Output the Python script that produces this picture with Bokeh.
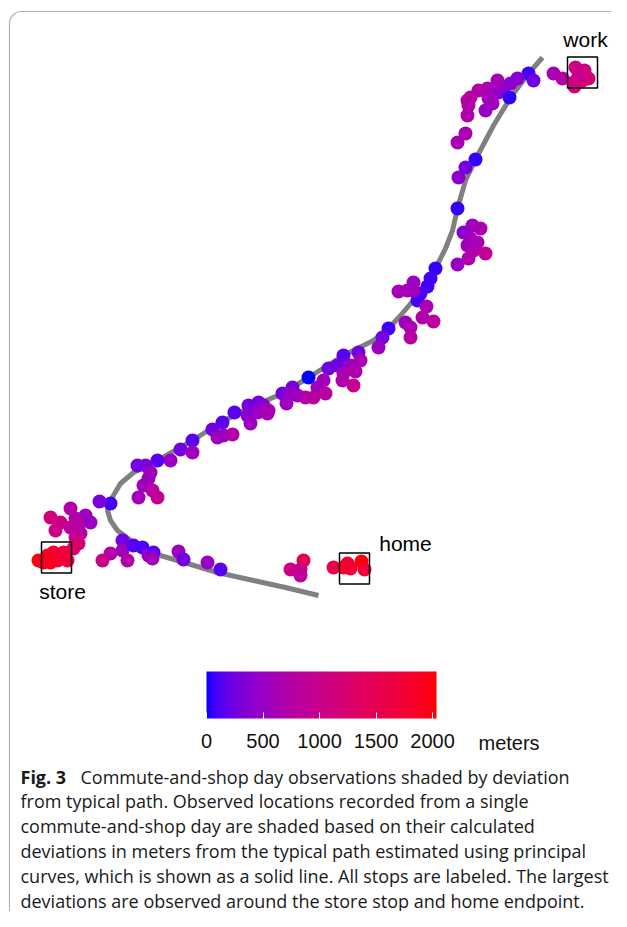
import numpy as np
from bokeh.plotting import figure
from bokeh.models import (Range1d, ColumnDataSource, LinearColorMapper, ColorBar,
                          FixedTicker, BoxAnnotation)
from bokeh.transform import transform
from bokeh.core.properties import value
from bokeh.embed import file_html
from bokeh.resources import INLINE

# ---------------- data (map positions, page-like units; deviation in meters) ----------------
obs_x = [575, 584, 588, 582, 573, 574, 578, 553, 562,
         528, 533, 517, 510, 503, 498, 497, 509,
         487, 478, 470, 467, 488, 492, 485, 468, 467, 465, 457,
         475, 465, 458, 457,
         472, 463, 480, 470, 477, 467, 473, 485, 468, 457,
         435, 430, 427, 420, 417, 413, 407, 398, 413, 426, 422, 433, 405, 410, 410, 388, 382, 378,
         358, 343, 360, 350, 337, 328, 343, 355, 342, 353, 308, 323, 317, 325, 313, 305, 297, 292, 282, 286, 290,
         258, 248, 263, 268, 257, 247, 250, 267, 234, 222, 212, 217, 223, 232, 192, 180, 192,
         170, 157, 137, 145, 150, 148, 143, 152, 157, 138,
         110, 99,
         70, 50, 60, 85, 90, 75, 78, 70, 55, 80, 75, 78, 73,
         38, 47, 53, 57, 63, 67, 50, 43,
         122, 122, 110, 102, 127, 133, 142, 148, 153, 152, 178, 183, 207, 220,
         303, 290, 300, 300, 333, 347, 350, 361, 364, 343]
obs_y = [67, 70, 78, 80, 82, 86, 75, 73, 78,
         73, 80, 78, 83, 88, 92, 80, 97,
         88, 90, 97, 100, 98, 103, 110, 105, 115, 133, 142,
         159, 167, 177, 208,
         225, 232, 228, 238, 242, 245, 250, 253, 258, 264,
         268, 278, 286, 293, 300, 282, 290, 291, 290, 306, 317, 321, 322, 327, 337, 328, 337, 347,
         352, 355, 360, 365, 365, 368, 373, 371, 380, 385, 377, 380, 387, 393, 397, 397, 395, 387, 393, 403, 393,
         402, 405, 405, 410, 412, 415, 423, 413, 412, 422, 429, 437, 435, 434, 440, 449, 452,
         460, 460, 465, 465, 472, 478, 485, 490, 497, 497,
         503, 501,
         508, 517, 522, 515, 522, 518, 525, 527, 530, 533, 537, 543, 548,
         560, 555, 552, 560, 552, 560, 562, 562,
         540, 550, 553, 560, 560, 545, 547, 555, 552, 558, 551, 559, 562, 569,
         560, 569, 569, 575, 567, 563, 568, 561, 569, 567]
obs_dev = [1050, 1100, 1200, 1200, 1100, 1150, 1000, 650, 750,
           80, 250, 350, 400, 400, 450, 600, 50,
           650, 750, 800, 800, 650, 550, 500, 750, 700, 650, 650,
           50, 250, 400, 50,
           550, 400, 650, 550, 650, 550, 700, 900, 700, 500,
           50, 80, 80, 120, 80, 550, 650, 600, 550, 650, 700, 800, 550, 650, 800, 80, 250, 500,
           250, 150, 650, 550, 250, 250, 650, 700, 700, 950, 0, 550, 550, 800, 800, 800, 650, 250, 250, 550, 500,
           250, 250, 400, 650, 500, 400, 550, 650, 150, 150, 250, 550, 550, 700, 150, 250, 550,
           500, 150, 250, 300, 550, 550, 550, 800, 900, 600,
           80, 300,
           750, 1150, 1050, 550, 500, 750, 750, 850, 1050, 750, 950, 1200, 1300,
           2000, 1900, 1800, 1800, 1700, 1700, 1900, 1900,
           250, 550, 750, 1000, 750, 150, 120, 500, 150, 550, 550, 250, 500, 150,
           1500, 1050, 1050, 850, 1550, 1800, 1700, 2030, 1700, 1800]

# typical path (principal curve)
path_x = [542, 528, 510, 493, 475, 465, 457, 452, 445, 435, 427, 417, 400, 388, 373, 343,
          308, 282, 247, 220, 192, 157, 133, 120, 110, 107, 110, 117, 133, 160, 187, 217,
          253, 285, 318]
path_y = [57, 73, 97, 125, 159, 180, 208, 230, 248, 268, 280, 295, 315, 328, 340, 355,
          377, 393, 408, 422, 440, 460, 472, 483, 500, 510, 520, 530, 542, 555, 563, 572,
          580, 587, 595]

# stops
stop_names = ["work", "home", "store"]
stop_x = [582, 354, 56]
stop_y = [72, 568, 557]
stop_half = 15

cb_ticks = [0, 500, 1000, 1500, 2000]
cb_low, cb_high = 0, 2035

caption_bold = "Fig. 3"
caption_lines = [
    "Commute-and-shop day observations shaded by deviation",
    "from typical path. Observed locations recorded from a single",
    "commute-and-shop day are shaded based on their calculated",
    "deviations in meters from the typical path estimated using principal",
    "curves, which is shown as a solid line. All stops are labeled. The largest",
    "deviations are observed around the store stop and home endpoint.",
]


# ---------------- blue -> red palette interpolated in CIE Lab ----------------
def srgb_to_lab(rgb):
    c = np.array(rgb, float) / 255.0
    c = np.where(c > 0.04045, ((c + 0.055) / 1.055) ** 2.4, c / 12.92)
    M = np.array([[0.4124, 0.3576, 0.1805], [0.2126, 0.7152, 0.0722], [0.0193, 0.1192, 0.9505]])
    xyz = M @ c / np.array([0.95047, 1.0, 1.08883])
    f = np.where(xyz > 0.008856, np.cbrt(xyz), 7.787 * xyz + 16 / 116)
    return np.array([116 * f[1] - 16, 500 * (f[0] - f[1]), 200 * (f[1] - f[2])])


def lab_to_hex(lab):
    L, a, b = lab
    fy = (L + 16) / 116
    fx = fy + a / 500
    fz = fy - b / 200
    f = np.array([fx, fy, fz])
    xyz = np.where(f ** 3 > 0.008856, f ** 3, (f - 16 / 116) / 7.787) * np.array([0.95047, 1.0, 1.08883])
    Mi = np.array([[3.2406, -1.5372, -0.4986], [-0.9689, 1.8758, 0.0415], [0.0557, -0.2040, 1.0570]])
    c = Mi @ xyz
    c = np.where(c > 0.0031308, 1.055 * np.clip(c, 0, None) ** (1 / 2.4) - 0.055, 12.92 * c)
    c = np.clip(np.round(c * 255), 0, 255).astype(int)
    return "#%02x%02x%02x" % tuple(c)


lab_lo, lab_hi = srgb_to_lab([0, 0, 255]), srgb_to_lab([255, 0, 0])
palette = [lab_to_hex(lab_lo + (lab_hi - lab_lo) * t) for t in np.linspace(0, 1, 256)]

# ---------------- figure ----------------
W, H = 611, 911
p = figure(width=W, height=H, x_range=Range1d(0, W), y_range=Range1d(H, 0),
           output_backend="svg", toolbar_location=None, min_border=0)
p.axis.visible = False
p.grid.visible = False
p.outline_line_color = None
p.background_fill_color = "white"
p.border_fill_color = "white"

# rounded frame
p.add_layout(BoxAnnotation(left=9, right=700, top=11, bottom=935, fill_alpha=0,
                           line_color="black", line_width=1.2, border_radius=12))

p.line(path_x, path_y, line_color="#808080", line_width=5)

mapper = LinearColorMapper(palette=palette, low=cb_low, high=cb_high)
src = ColumnDataSource(dict(x=obs_x, y=obs_y, dev=obs_dev))
p.scatter("x", "y", source=src, size=14, fill_color=transform("dev", mapper), line_color=None)

p.rect(stop_x, stop_y, width=2 * stop_half, height=2 * stop_half + 1, fill_alpha=0,
       line_color="black", line_width=1.5)

lab_dx = [3, 51, 6]
lab_dy = [-33, -25, 34]
p.text([x + dx for x, dx in zip(stop_x, lab_dx)], [y + dy for y, dy in zip(stop_y, lab_dy)],
       text=stop_names, text_font=value("Liberation Sans"), text_font_size="21px",
       text_align="center", text_baseline="middle", text_color="black")

cb = ColorBar(color_mapper=mapper, orientation="horizontal", width=230, height=47,
              ticker=FixedTicker(ticks=cb_ticks), major_label_text_font_size="20px",
              major_label_text_font="Liberation Sans", major_label_text_color="#111111",
              major_tick_line_color="white", major_tick_in=6, major_tick_out=0,
              minor_tick_line_color=None, bar_line_color=None, border_line_color=None,
              background_fill_alpha=0, padding=0, label_standoff=15, location=(206, 161))
p.add_layout(cb, "center")
p.text([478], [742], text=["meters"], text_font=value("Liberation Sans"), text_font_size="20px",
       text_baseline="middle", text_color="#111111")

# caption
cap_x, cap_y0, cap_dy = 20, 776, 24.8
cap_font = "18px"
p.text([cap_x], [cap_y0], text=[caption_bold], text_font=value("Open Sans"), text_font_size=cap_font,
       text_font_style="bold", text_baseline="middle", text_color="#1a1a1a")
p.text([80] + [cap_x] * (len(caption_lines) - 1),
       [cap_y0 + i * cap_dy for i in range(len(caption_lines))],
       text=caption_lines, text_font=value("Open Sans"), text_font_size=cap_font,
       text_baseline="middle", text_color="#1a1a1a")

open("out.html", "w").write(file_html(p, INLINE))
